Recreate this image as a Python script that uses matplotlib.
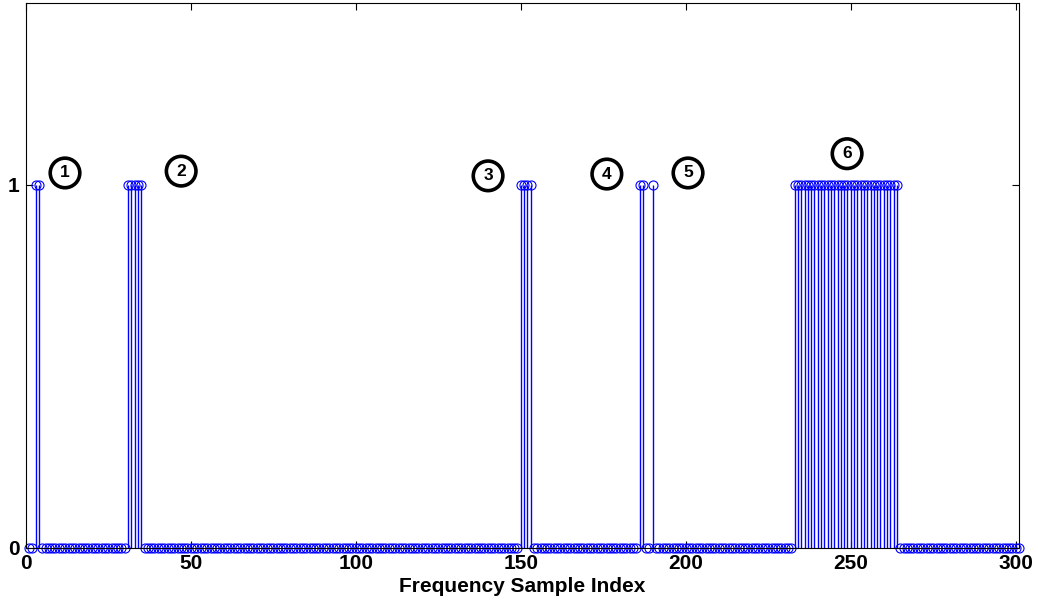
import numpy as np
import matplotlib
matplotlib.use("Agg")
import matplotlib.pyplot as plt

plt.rcParams['font.family'] = ['Liberation Sans', 'DejaVu Sans']
plt.rcParams['font.weight'] = 'bold'

# Frequency samples 1..301; occupied bins are set to 1
n_samples = 301
band1 = [3, 4]
band2 = [31, 32, 33, 34, 35]
band3 = [150, 151, 152, 153]
band4 = [186, 187]
band5 = [190]
band6 = list(range(233, 265))

# Circled band labels: (text, x, y)
band_labels = ["1", "2", "3", "4", "5", "6"]
label_x = [11.9, 47.1, 140.1, 176.1, 200.7, 248.9]
label_y = [1.032, 1.037, 1.024, 1.029, 1.032, 1.085]

x_ticks = [0, 50, 100, 150, 200, 250, 300]
y_ticks = [0, 1]

idx = np.arange(1, n_samples + 1)
vals = np.zeros(n_samples)
for band in (band1, band2, band3, band4, band5, band6):
    vals[np.array(band) - 1] = 1.0

fig = plt.figure(figsize=(10.38, 6.0), dpi=100)
ax = fig.add_axes([0.0248, 0.0872, 0.9569, 0.9078])

markers, stems, base = ax.stem(idx, vals, linefmt='b-', markerfmt='bo', basefmt=' ')
markers.set_markerfacecolor('none')
markers.set_markeredgecolor('#0000ff')
markers.set_markersize(6.5)
markers.set_markeredgewidth(0.8)
markers.set_clip_on(False)
stems.set_color('#0000ff')
stems.set_linewidth(1.0)

ax.set_xlim(0, 301)
ax.set_ylim(0, 1.5)
ax.set_xticks(x_ticks)
ax.set_yticks(y_ticks)
ax.tick_params(direction='in', length=5, width=0.8, top=True, right=True,
               labelsize=15, pad=4.5)
for lab in ax.get_xticklabels() + ax.get_yticklabels():
    lab.set_fontweight('bold')
for sp in ax.spines.values():
    sp.set_linewidth(0.8)
    sp.set_color('black')

ax.set_xlabel('Frequency Sample Index', fontsize=15, fontweight='bold', labelpad=3)

for t, x, y in zip(band_labels, label_x, label_y):
    ax.text(x, y, t, ha='center', va='center', fontsize=12.5, fontweight='bold',
            bbox=dict(boxstyle='circle,pad=0.42', fc='white', ec='black', lw=2.6))

fig.savefig('out.png', dpi=100)
